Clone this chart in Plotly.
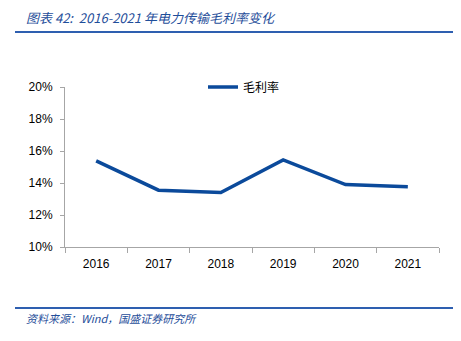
import plotly.graph_objects as go

years = ["2016", "2017", "2018", "2019", "2020", "2021"]
gross_margin = [0.1538, 0.1355, 0.1340, 0.1544, 0.1390, 0.1376]
series_name = "毛利率"
title_text = "图表 42:  2016-2021 年电力传输毛利率变化"
source_text = "资料来源：Wind，国盛证券研究所"

W, H = 461, 341
L, R, T, B = 65, 22, 87, 94
pw, ph = W - L - R, H - T - B

def px(x):
    return (x - L) / pw

def py(y):
    return (H - B - y) / ph

blue = "#0B4A9B"
title_blue = "#1F4E9A"
axis_gray = "#A6A6A6"

fig = go.Figure()
fig.add_trace(go.Scatter(
    x=years, y=gross_margin, mode="lines", name=series_name,
    line=dict(color=blue, width=3.5),
))

font_main = "Liberation Sans, Noto Sans CJK SC, sans-serif"

fig.update_layout(
    width=W, height=H,
    margin=dict(l=L, r=R, t=T, b=B),
    paper_bgcolor="white", plot_bgcolor="white",
    font=dict(family=font_main, size=12, color="#000000"),
    showlegend=True,
    legend=dict(x=px(203), y=1.0, xanchor="left", yanchor="middle",
                bgcolor="rgba(0,0,0,0)", font=dict(size=12, family="Noto Sans CJK SC"),
                itemwidth=30),
    xaxis=dict(type="category", range=[-0.5, len(years) - 0.5], showline=True,
               linecolor=axis_gray, linewidth=1,
               ticks="outside", ticklen=5, tickcolor=axis_gray, tickson="boundaries",
               showgrid=False, zeroline=False, tickfont=dict(size=12),
               ticklabelstandoff=6),
    yaxis=dict(range=[0.10, 0.20], dtick=0.02, tickformat=".0%", showline=True,
               linecolor=axis_gray, linewidth=1, ticks="outside", ticklen=4,
               tickcolor=axis_gray, showgrid=False, zeroline=False,
               tickfont=dict(size=12), ticklabelstandoff=5),
    shapes=[
        dict(type="line", xref="paper", yref="paper", x0=px(15), x1=px(453),
             y0=py(32), y1=py(32), line=dict(color="#2E5FB0", width=2)),
        dict(type="line", xref="paper", yref="paper", x0=px(15), x1=px(453),
             y0=py(308), y1=py(308), line=dict(color="#2E5FB0", width=2)),
    ],
    annotations=[
        dict(text=f"<i>{title_text}</i>", xref="paper", yref="paper",
             x=px(24), y=py(17), xanchor="left", yanchor="middle", showarrow=False,
             font=dict(size=13, color=title_blue, family="Noto Sans CJK SC")),
        dict(text=f"<i>{source_text}</i>", xref="paper", yref="paper",
             x=px(24), y=py(318), xanchor="left", yanchor="middle", showarrow=False,
             font=dict(size=11, color=title_blue, family="Noto Sans CJK SC")),
    ],
)

fig.write_html("out.html")
